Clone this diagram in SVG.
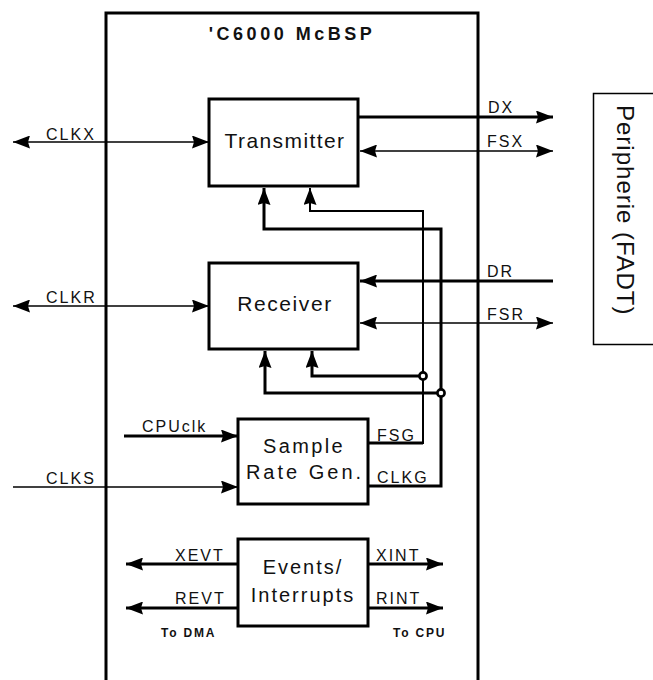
<svg xmlns="http://www.w3.org/2000/svg" width="653" height="680" viewBox="0 0 653 680">
<style>
.box{fill:#fff;stroke:#000;stroke-width:3}
.thin{fill:none;stroke:#000;stroke-width:1.7}
.mid{fill:none;stroke:#000;stroke-width:2}
.thick{fill:none;stroke:#000;stroke-width:3}
.big{font-family:"Liberation Sans",Arial,sans-serif;font-size:21px;letter-spacing:1.4px;text-anchor:middle;fill:#111}
.lbl{font-family:"Liberation Sans",Arial,sans-serif;font-size:16px;letter-spacing:2px;fill:#111}
.sm{font-family:"Liberation Sans",Arial,sans-serif;font-size:12px;font-weight:bold;letter-spacing:1.8px;fill:#111}
.ttl{font-family:"Liberation Sans",Arial,sans-serif;font-size:18px;font-weight:bold;letter-spacing:3.5px;text-anchor:middle;fill:#111}
</style>
<defs>
<marker id="ah" markerUnits="userSpaceOnUse" markerWidth="17" markerHeight="13" refX="17" refY="6.5" orient="auto-start-reverse">
<path d="M0,0 L17,6.5 L0,13 L2,6.5 z" fill="#000"/>
</marker>
</defs>
<g id="mcbsp">
<rect x="106" y="13" width="372" height="700" class="box"/>
<text x="292" y="40" class="ttl">'C6000 McBSP</text>
</g>
<g id="periph">
<rect x="593.5" y="93.5" width="70" height="251" fill="#fff" stroke="#000" stroke-width="1.5"/>
<text transform="translate(617,105) rotate(90)" font-family="'Liberation Sans',Arial,sans-serif" font-size="24" letter-spacing="1" fill="#111">Peripherie (FADT)</text>
</g>
<g id="connectors">
<path d="M13,142 H209" class="thin" marker-start="url(#ah)" marker-end="url(#ah)"/>
<path d="M13,306 H209" class="thin" marker-start="url(#ah)" marker-end="url(#ah)"/>
<path d="M358,117 H553" class="thick" marker-end="url(#ah)"/>
<path d="M360,151 H553" class="thin" marker-start="url(#ah)" marker-end="url(#ah)"/>
<path d="M553,281 H360" class="thick" marker-end="url(#ah)"/>
<path d="M360,323 H553" class="thin" marker-start="url(#ah)" marker-end="url(#ah)"/>
<path d="M124,436 H238" class="thick" marker-end="url(#ah)"/>
<path d="M13,487 H238" class="thin" marker-end="url(#ah)"/>
<path d="M238,564 H126" class="thick" marker-end="url(#ah)"/>
<path d="M238,608 H126" class="thick" marker-end="url(#ah)"/>
<path d="M368,564 H443" class="thick" marker-end="url(#ah)"/>
<path d="M368,608 H443" class="thick" marker-end="url(#ah)"/>
<path d="M368,443 H423" class="thick"/>
<path d="M423,444 V211 H310 V188" class="mid" marker-end="url(#ah)"/>
<path d="M423,376 H312 V351" class="thick" marker-end="url(#ah)"/>
<path d="M368,486 H441 V229 H264 V188" class="thick" marker-end="url(#ah)"/>
<path d="M441,393 H265 V351" class="thick" marker-end="url(#ah)"/>
<circle cx="423" cy="376" r="3.6" fill="#fff" stroke="#000" stroke-width="2.6"/>
<circle cx="441" cy="393" r="3.6" fill="#fff" stroke="#000" stroke-width="2.6"/>
<text x="46" y="140" class="lbl">CLKX</text>
<text x="46" y="303" class="lbl">CLKR</text>
<text x="46" y="484" class="lbl">CLKS</text>
<text x="142" y="432" class="lbl">CPUclk</text>
<text x="488" y="113" class="lbl">DX</text>
<text x="487" y="147" class="lbl">FSX</text>
<text x="487" y="277" class="lbl">DR</text>
<text x="487" y="320" class="lbl">FSR</text>
<text x="377" y="441" class="lbl">FSG</text>
<text x="377" y="483" class="lbl">CLKG</text>
<text x="175" y="561" class="lbl">XEVT</text>
<text x="175" y="604" class="lbl">REVT</text>
<text x="376" y="561" class="lbl">XINT</text>
<text x="376" y="604" class="lbl">RINT</text>
<text x="161" y="637" class="sm">To DMA</text>
<text x="393" y="637" class="sm">To CPU</text>
</g>
<g id="transmitter">
<rect x="209" y="99" width="149" height="87" class="box"/>
<text x="285" y="148" class="big">Transmitter</text>
</g>
<g id="receiver">
<rect x="209" y="263" width="149" height="86" class="box"/>
<text x="285" y="311" class="big" style="letter-spacing:1.6px">Receiver</text>
</g>
<g id="srg">
<rect x="238" y="419" width="130" height="85" class="box"/>
<text x="304" y="453" class="big" style="font-size:20px;letter-spacing:2.4px">Sample</text>
<text x="305" y="479" class="big" style="font-size:20px;letter-spacing:3px">Rate Gen.</text>
</g>
<g id="events">
<rect x="238" y="539" width="130" height="87" class="box"/>
<text x="303" y="574" class="big" style="font-size:20px;letter-spacing:2px">Events/</text>
<text x="303" y="602" class="big" style="font-size:20px;letter-spacing:2px">Interrupts</text>
</g>
</svg>
